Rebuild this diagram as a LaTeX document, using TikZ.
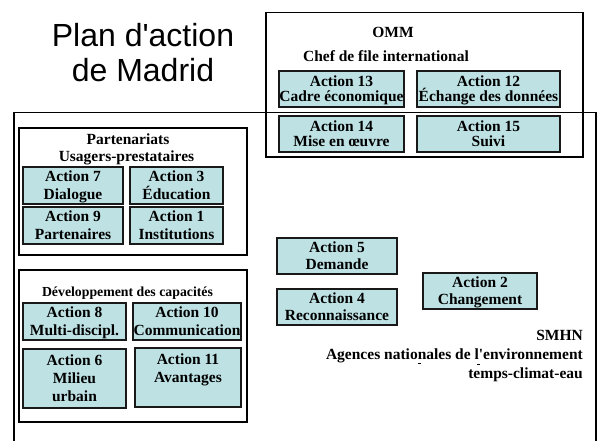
\documentclass[tikz,border=0pt]{standalone}
\usepackage{fontspec}
\setmainfont{Liberation Serif}
\newfontfamily\titlefont{Liberation Sans}
\definecolor{boxblue}{RGB}{190,225,228}
\definecolor{edge}{RGB}{25,25,25}
\newcommand\myboxfont{\fontsize{15.5}{16.5}\selectfont\bfseries}
\newcommand\bl{\vphantom{Ég}}
\tikzset{
  abox/.style={draw=edge, fill=boxblue, line width=1.4pt, inner sep=0pt, align=center,
    font=\myboxfont},
  grp/.style={draw=black, line width=1.6pt},
  lbl/.style={anchor=base, inner sep=0pt, font=\fontsize{15.5}{17}\selectfont\bfseries},
  ttl/.style={anchor=base, inner sep=0pt, font=\titlefont\fontsize{32}{35}\selectfont}
}
\begin{document}
\begin{tikzpicture}[x=1pt,y=-1pt]
\useasboundingbox (0,0) rectangle (597,441);
% group frames
\draw[grp] (14,445) -- (14,112.7) -- (596,112.7) -- (596,445);
\draw[grp] (266,12.7) rectangle (583,157);
\draw[grp] (19,128) rectangle (247,255);
\draw[grp] (19,270) rectangle (247,422);
% title
\node[ttl] (t1) at (143,46.7) {Plan d\textquotesingle action};
\node[ttl] (t2) at (143,81.7) {de Madrid};
% OMM
\node[lbl] (omm) at (393,37.5) {OMM};
\node[lbl] (chef) at (386,62) {Chef de file international};
\node[abox, minimum width=125pt, minimum height=36pt] (a13) at (341.5,89) {\bl Action 13\\[-3pt]\bl Cadre économique};
\node[abox, minimum width=143pt, minimum height=36pt] (a12) at (488.5,89) {\bl Action 12\\[-3pt]\bl Échange des données};
\node[abox, minimum width=125pt, minimum height=36pt] (a14) at (341.5,134) {\bl Action 14\\[-3pt]\bl Mise en œuvre};
\node[abox, minimum width=143pt, minimum height=36pt] (a15) at (488.5,134) {\bl Action 15\\[-3pt]\bl Suivi};
% Partenariats
\node[lbl] (part) at (128,145) {Partenariats};
\node[lbl] (usag) at (126.5,161.7) {Usagers-prestataires};
\node[abox, minimum width=100pt, minimum height=37pt] (a7) at (73,185.5) {\bl Action 7\\\bl Dialogue};
\node[abox, minimum width=93pt, minimum height=37pt] (a3) at (176.5,185.5) {\bl Action 3\\\bl Éducation};
\node[abox, minimum width=100pt, minimum height=37pt] (a9) at (73,225.5) {\bl Action 9\\\bl Partenaires};
\node[abox, minimum width=93pt, minimum height=37pt] (a1) at (176.5,225.5) {\bl Action 1\\\bl Institutions};
% Developpement
\node[lbl] (dev) at (127.5,296) {\fontsize{13.8}{15}\selectfont Développement des capacités};
\node[abox, minimum width=103pt, minimum height=37pt] (a8) at (74.5,321.5) {\bl Action 8\\\bl Multi-discipl.};
\node[abox, minimum width=108pt, minimum height=37pt] (a10) at (187,321.5) {\bl Action 10\\\bl Communication};
\node[abox, minimum width=103pt, minimum height=59pt] (a6) at (74.5,378.5) {\bl Action 6\\\bl Milieu\\\bl urbain};
\node[abox, minimum width=106pt, minimum height=59pt] (a11) at (188,377.5) {\bl Action 11\\\bl Avantages\\\bl ~};
% centre
\node[abox, minimum width=120pt, minimum height=36pt] (a5) at (337,256) {\bl Action 5\\\bl Demande};
\node[abox, minimum width=120pt, minimum height=36pt] (a4) at (337,307) {\bl Action 4\\\bl Reconnaissance};
\node[abox, minimum width=114pt, minimum height=36pt] (a2) at (480,291) {\bl Action 2\\\bl Changement};
% SMHN
\node[lbl, anchor=base east] (smhn) at (583,340) {SMHN};
\node[lbl, anchor=base east] (agen) at (583,359) {Agences nationales de l\textquotesingle environnement};
\node[lbl, anchor=base east] (temp) at (583,378) {temps-climat-eau};
\coordinate (d1a) at (418,363.5); \coordinate (d1b) at (421,363.5);
\coordinate (d2a) at (477,364.5); \coordinate (d2b) at (480,364.5);
\draw[line width=0.8pt] (d1a) -- (d1b);
\draw[line width=0.8pt] (d2a) -- (d2b);
\end{tikzpicture}
\end{document}
